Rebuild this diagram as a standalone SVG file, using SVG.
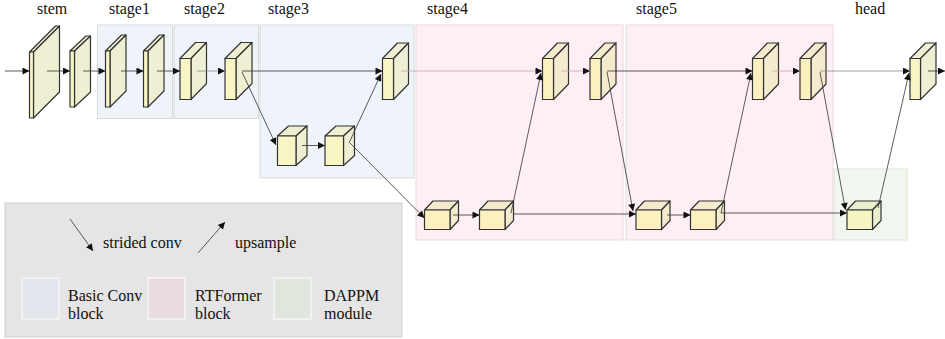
<svg xmlns="http://www.w3.org/2000/svg" width="945" height="339" viewBox="0 0 945 339">
<defs>
<style>
.t{font-family:'Liberation Serif','Times New Roman',serif;font-size:16px;fill:#111}
.bgb{fill:#eff4fa;stroke:#d6dadd;stroke-width:1}
.bgp{fill:#fdeff4;stroke:#e6d9dd;stroke-width:1}
.bgg{fill:#f1f6ee;stroke:#dde4da;stroke-width:1}
.fr{fill:#f8f6c4;stroke:#333;stroke-width:1.2;stroke-linejoin:round}
.sd{fill:#eeefd3;stroke:#333;stroke-width:1.2;stroke-linejoin:round}
.p .fr{fill:#fcf0c0}
.p .sd{fill:#f4ebcf}
.g .fr{fill:#f4f5c2}
.g .sd{fill:#ebeecf}
.c{stroke:#333;stroke-width:0.8;fill:none;marker-end:url(#ah)}
.pk{stroke:#c9a2ae}
.gr{stroke:#8a8a8a}
</style>
<marker id="ah" viewBox="0 0 10 10" refX="10" refY="5" markerWidth="9" markerHeight="7" markerUnits="userSpaceOnUse" orient="auto">
<path d="M0,0 L10,5 L0,10 z" fill="#111"/>
</marker>
</defs>
<rect width="945" height="339" fill="#ffffff"/>
<g id="backgrounds">
<rect class="bgb" x="97.5" y="25" width="75" height="93.5"/>
<rect class="bgb" x="174" y="25" width="84.5" height="93.5"/>
<rect class="bgb" x="260" y="25" width="154" height="153"/>
<rect class="bgp" x="416" y="25" width="207" height="215"/>
<rect class="bgp" x="626" y="25" width="207" height="215"/>
<rect class="bgg" x="834" y="169" width="73" height="71"/>
</g>
<g id="titles" font-family="Liberation Serif, Times New Roman, serif" font-size="16" fill="#111">
<text class="t" x="37" y="14">stem</text>
<text class="t" x="109" y="14">stage1</text>
<text class="t" x="184" y="14">stage2</text>
<text class="t" x="268" y="14">stage3</text>
<text class="t" x="427" y="14">stage4</text>
<text class="t" x="636" y="14">stage5</text>
<text class="t" x="855" y="14">head</text>
</g>
<g id="nodes">
<g id="stem1"><polygon class="sd" points="29.5,52 55.5,26 59.5,26 33.5,52"/><polygon class="sd" points="33.5,52 59.5,26 59.5,92 33.5,118"/><rect class="fr" x="29.5" y="52" width="4" height="66"/></g>
<g id="stem2"><polygon class="sd" points="70,51 86,36 90.5,36 74.5,51"/><polygon class="sd" points="74.5,51 90.5,36 90.5,92 74.5,107"/><rect class="fr" x="70" y="51" width="4.5" height="56"/></g>
<g id="s1b1"><polygon class="sd" points="105.5,51 121.5,35 126,35 110,51"/><polygon class="sd" points="110,51 126,35 126,91 110,107"/><rect class="fr" x="105.5" y="51" width="4.5" height="56"/></g>
<g id="s1b2"><polygon class="sd" points="143.5,51 159.5,35 164,35 148,51"/><polygon class="sd" points="148,51 164,35 164,91 148,107"/><rect class="fr" x="143.5" y="51" width="4.5" height="56"/></g>
<g id="s2b1"><polygon class="sd" points="180,58.5 195.5,42.5 206.5,42.5 191,58.5"/><polygon class="sd" points="191,58.5 206.5,42.5 206.5,83.5 191,99.5"/><rect class="fr" x="180" y="58.5" width="11" height="41"/></g>
<g id="s2b2"><polygon class="sd" points="225,58.5 241,42.5 252,42.5 236,58.5"/><polygon class="sd" points="236,58.5 252,42.5 252,83.5 236,99.5"/><rect class="fr" x="225" y="58.5" width="11" height="41"/></g>
<g id="s3top"><polygon class="sd" points="382.5,58.5 397.5,43 408.5,43 393.5,58.5"/><polygon class="sd" points="393.5,58.5 408.5,43 408.5,84 393.5,99.5"/><rect class="fr" x="382.5" y="58.5" width="11" height="41"/></g>
<g id="s3c1"><polygon class="sd" points="277.5,136 288.5,126 307,126 296,136"/><polygon class="sd" points="296,136 307,126 307,155.5 296,165.5"/><rect class="fr" x="277.5" y="136" width="18.5" height="29.5"/></g>
<g id="s3c2"><polygon class="sd" points="325,136 336,126 354.5,126 343.5,136"/><polygon class="sd" points="343.5,136 354.5,126 354.5,155.5 343.5,165.5"/><rect class="fr" x="325" y="136" width="18.5" height="29.5"/></g>
<g class="p">
<g id="s4t1"><polygon class="sd" points="542.5,58.5 557.5,43 568.5,43 553.5,58.5"/><polygon class="sd" points="553.5,58.5 568.5,43 568.5,84 553.5,99.5"/><rect class="fr" x="542.5" y="58.5" width="11" height="41"/></g>
<g id="s4t2"><polygon class="sd" points="590,58.5 605,43 616,43 601,58.5"/><polygon class="sd" points="601,58.5 616,43 616,84 601,99.5"/><rect class="fr" x="590" y="58.5" width="11" height="41"/></g>
<g id="s4c1"><polygon class="sd" points="424.5,210 433,201 458.5,201 450,210"/><polygon class="sd" points="450,210 458.5,201 458.5,220.5 450,229.5"/><rect class="fr" x="424.5" y="210" width="25.5" height="19.5"/></g>
<g id="s4c2"><polygon class="sd" points="479.5,210 488,201 513.5,201 505,210"/><polygon class="sd" points="505,210 513.5,201 513.5,220.5 505,229.5"/><rect class="fr" x="479.5" y="210" width="25.5" height="19.5"/></g>
<g id="s5t1"><polygon class="sd" points="752.5,58.5 767.5,43 778.5,43 763.5,58.5"/><polygon class="sd" points="763.5,58.5 778.5,43 778.5,84 763.5,99.5"/><rect class="fr" x="752.5" y="58.5" width="11" height="41"/></g>
<g id="s5t2"><polygon class="sd" points="800,58.5 815,43 826,43 811,58.5"/><polygon class="sd" points="811,58.5 826,43 826,84 811,99.5"/><rect class="fr" x="800" y="58.5" width="11" height="41"/></g>
<g id="s5c1"><polygon class="sd" points="636,210 644.5,201 670,201 661.5,210"/><polygon class="sd" points="661.5,210 670,201 670,220.5 661.5,229.5"/><rect class="fr" x="636" y="210" width="25.5" height="19.5"/></g>
<g id="s5c2"><polygon class="sd" points="690.5,210 699,201 724.5,201 716,210"/><polygon class="sd" points="716,210 724.5,201 724.5,220.5 716,229.5"/><rect class="fr" x="690.5" y="210" width="25.5" height="19.5"/></g>
</g>
<g class="g">
<g id="headc"><polygon class="sd" points="847,210 855.5,201 881,201 872.5,210"/><polygon class="sd" points="872.5,210 881,201 881,220.5 872.5,229.5"/><rect class="fr" x="847" y="210" width="25.5" height="19.5"/></g>
</g>
<g id="headt"><polygon class="sd" points="910,58.5 925.5,43 936,43 920.5,58.5"/><polygon class="sd" points="920.5,58.5 936,43 936,84 920.5,99.5"/><rect class="fr" x="910" y="58.5" width="10.5" height="41"/></g>
</g>
<g id="connectors">
<line class="c" x1="5" y1="71" x2="29.5" y2="71"/>
<line class="c" x1="47" y1="71" x2="70" y2="71"/>
<line class="c" x1="83" y1="71" x2="105.5" y2="71"/>
<line class="c" x1="121" y1="71" x2="143.5" y2="71"/>
<line class="c" x1="157" y1="71" x2="180" y2="71"/>
<line class="c gr" x1="197" y1="71" x2="225" y2="71"/>
<line class="c" x1="242" y1="71" x2="382.5" y2="71"/>
<line class="c" x1="242" y1="72" x2="276" y2="145"/>
<line class="c" x1="302" y1="145.5" x2="325" y2="145.5"/>
<line class="c" x1="349" y1="143" x2="381" y2="74"/>
<line class="c" x1="350" y1="143" x2="424.5" y2="218"/>
<line class="c" x1="453" y1="215" x2="479.5" y2="215"/>
<line class="c pk" x1="401" y1="71" x2="542.5" y2="71"/>
<line class="c" x1="511" y1="213" x2="541" y2="73"/>
<line class="c pk" x1="561" y1="71" x2="590" y2="71"/>
<line class="c" x1="513" y1="214" x2="636" y2="214"/>
<line class="c" x1="607" y1="71" x2="752.5" y2="71"/>
<line class="c" x1="607" y1="72" x2="633" y2="211"/>
<line class="c" x1="667" y1="215" x2="690.5" y2="215"/>
<line class="c" x1="721" y1="213" x2="751" y2="73"/>
<line class="c" x1="721" y1="213" x2="847" y2="213"/>
<line class="c pk" x1="772" y1="71" x2="800" y2="71"/>
<line class="c gr" x1="820" y1="71" x2="910" y2="71"/>
<line class="c" x1="820" y1="72" x2="845.5" y2="210"/>
<line class="c" x1="878" y1="208" x2="909" y2="73"/>
<line class="c" x1="928" y1="71" x2="945" y2="71"/>
</g>
<g id="legend" font-family="Liberation Serif, Times New Roman, serif" font-size="16" fill="#111">
<rect x="5" y="203" width="397" height="134" fill="#e5e5e5" stroke="#cfcfcf" stroke-width="1"/>
<line class="c" x1="70" y1="219" x2="93" y2="251"/>
<text class="t" x="103" y="248">strided conv</text>
<line class="c" x1="198" y1="253" x2="225" y2="222"/>
<text class="t" x="235" y="248">upsample</text>
<rect x="22" y="278" width="37" height="41" fill="#e1e7ec" stroke="#f6f6f6" stroke-width="1.5"/>
<text class="t" x="68" y="301">Basic Conv</text>
<text class="t" x="68" y="319">block</text>
<rect x="148" y="278" width="37" height="41" fill="#e9dbe0" stroke="#f6f6f6" stroke-width="1.5"/>
<text class="t" x="195" y="301">RTFormer</text>
<text class="t" x="195" y="319">block</text>
<rect x="274" y="278" width="37" height="41" fill="#e1e6dc" stroke="#f6f6f6" stroke-width="1.5"/>
<text class="t" x="324" y="301">DAPPM</text>
<text class="t" x="324" y="319">module</text>
</g>
</svg>
